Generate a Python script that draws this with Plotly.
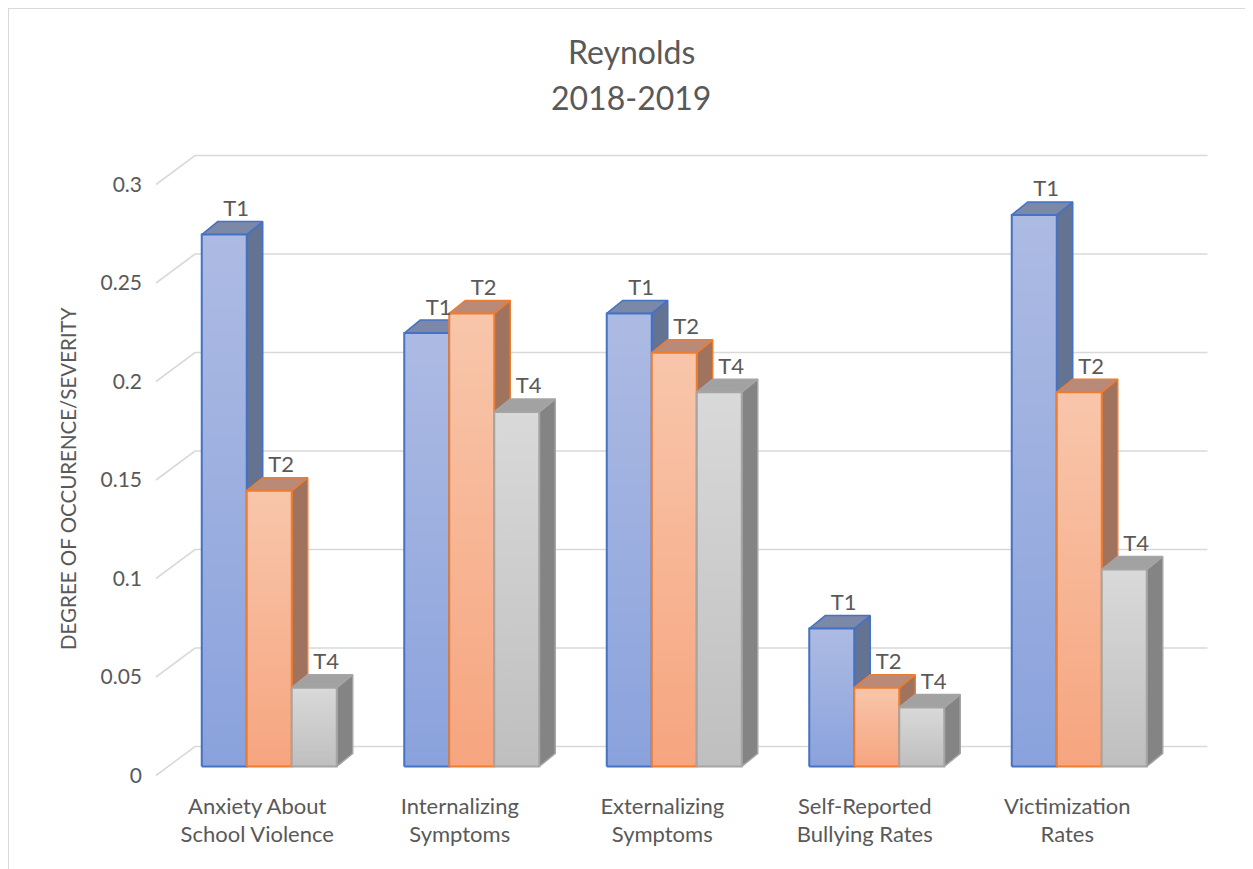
import plotly.graph_objects as go

# ---------------- data ----------------
categories = ["Anxiety About<br>School Violence", "Internalizing<br>Symptoms",
              "Externalizing<br>Symptoms", "Self-Reported<br>Bullying Rates",
              "Victimization<br>Rates"]
series_names = ["T1", "T2", "T4"]
t1_values = [0.27, 0.22, 0.23, 0.07, 0.28]
t2_values = [0.14, 0.23, 0.21, 0.04, 0.19]
t4_values = [0.04, 0.18, 0.19, 0.03, 0.10]
y_ticks = [0, 0.05, 0.1, 0.15, 0.2, 0.25, 0.3]
y_tick_labels = ["0", "0.05", "0.1", "0.15", "0.2", "0.25", "0.3"]
title_lines = ["Reynolds", "2018-2019"]
y_title = "DEGREE OF OCCURENCE/SEVERITY"

# ---------------- layout geometry (page pixels) ----------------
PAGE_W, PAGE_H = 1253, 869
OFF = 8                       # browser body margin
W, H = PAGE_W - OFF, PAGE_H - OFF
CAT_PX = 202.5                # pixels per category band
VAL_PX = 1970.0               # pixels per unit of value
X0 = 156.0 - OFF              # x of front-left wall edge (figure px)
Y0 = 775.5 - OFF              # y of value 0 at front wall edge (figure px)

def px(xp):   # page x -> paper fraction
    return (xp - OFF) / W

def py(yp):   # page y -> paper fraction
    return 1 - (yp - OFF) / H

FONT = "Lato"
TXT = "#595959"
GRID = "#d9d9d9"

series_style = [
    dict(edge="#4472C4", top="#adbbe3", bottom="#8aa2dc", side="#637391", cap="#7b88a8"),
    dict(edge="#ED7D31", top="#f8c6ab", bottom="#f6a57f", side="#a0735e", cap="#b88a77"),
    dict(edge="#A5A5A5", top="#d9d9d9", bottom="#bfbfbf", side="#848484", cap="#a2a2a2"),
]

def dxp(p):
    return p / CAT_PX

def dyp(p):
    return p / VAL_PX

WALL_DX, WALL_DY = dxp(39), dyp(29)     # depth of the wall
OFF_DX, OFF_DY = dxp(12), dyp(9)        # bar front plane offset
BAR_DX, BAR_DY = dxp(16), dyp(13)       # bar depth
BAR_W = dxp(45)

x_range = [-0.5 - X0 / CAT_PX, -0.5 + (W - X0) / CAT_PX]
y_range = [(Y0 - H) / VAL_PX, Y0 / VAL_PX]

fig = go.Figure()

# back wall gridlines
gx, gy = [], []
for t in y_ticks:
    gx += [-0.5, -0.5 + WALL_DX, len(categories) - 0.5 + WALL_DX, None]
    gy += [t, t + WALL_DY, t + WALL_DY, None]
fig.add_trace(go.Scatter(x=gx, y=gy, mode="lines", line=dict(color=GRID, width=1.6),
                         hoverinfo="skip", showlegend=False))

all_series = [t1_values, t2_values, t4_values]
lab_x, lab_y, lab_t = [], [], []
for ci in range(len(categories)):
    for si, vals in enumerate(all_series):
        v = vals[ci]
        st = series_style[si]
        xl = ci - 1.5 * BAR_W + si * BAR_W + OFF_DX
        xr = xl + BAR_W
        yb = OFF_DY
        yt = v + OFF_DY
        # side face
        fig.add_trace(go.Scatter(
            x=[xr, xr + BAR_DX, xr + BAR_DX, xr, xr],
            y=[yb, yb + BAR_DY, yt + BAR_DY, yt, yb],
            mode="lines", fill="toself", fillcolor=st["side"],
            line=dict(color=st["edge"], width=1.5), hoverinfo="skip", showlegend=False))
        # top face
        fig.add_trace(go.Scatter(
            x=[xl, xr, xr + BAR_DX, xl + BAR_DX, xl],
            y=[yt, yt, yt + BAR_DY, yt + BAR_DY, yt],
            mode="lines", fill="toself", fillcolor=st["cap"],
            line=dict(color=st["edge"], width=1.5), hoverinfo="skip", showlegend=False))
        # front face
        fig.add_trace(go.Scatter(
            x=[xl, xr, xr, xl, xl],
            y=[yb, yb, yt, yt, yb],
            mode="lines", fill="toself",
            fillgradient=dict(type="vertical", colorscale=[[0, st["bottom"]], [1, st["top"]]]),
            line=dict(color=st["edge"], width=2), hoverinfo="skip", showlegend=False))
        lab_x.append((xl + xr) / 2 + dxp(12))
        lab_y.append(yt + BAR_DY + dyp(11))
        lab_t.append(series_names[si])

fig.add_trace(go.Scatter(x=lab_x, y=lab_y, text=lab_t, mode="text",
                         textposition="middle center",
                         textfont=dict(family=FONT, size=22, color=TXT),
                         hoverinfo="skip", showlegend=False, cliponaxis=False))

fig.update_layout(
    width=W, height=H,
    margin=dict(l=0, r=0, t=0, b=0, pad=0),
    paper_bgcolor="white", plot_bgcolor="white",
    showlegend=False,
    font=dict(family=FONT, color=TXT),
    xaxis=dict(range=x_range, showgrid=False, zeroline=False, showline=False,
               tickmode="array", tickvals=list(range(len(categories))), ticktext=categories,
               ticks="", anchor="free", position=(H - Y0) / H, ticklabelstandoff=15,
               tickfont=dict(family=FONT, size=22, color=TXT), fixedrange=True),
    yaxis=dict(range=y_range, showgrid=False, zeroline=False, showline=False,
               tickmode="array", tickvals=y_ticks, ticktext=y_tick_labels,
               ticks="", anchor="free", position=X0 / W, ticklabelstandoff=14,
               tickfont=dict(family=FONT, size=21, color=TXT), fixedrange=True),
    shapes=[
        dict(type="line", xref="paper", yref="paper", x0=0, x1=1.0, y0=1, y1=1,
             line=dict(color=GRID, width=2)),
        dict(type="line", xref="paper", yref="paper", x0=0, x1=0, y0=0, y1=1,
             line=dict(color=GRID, width=2)),
    ],
    annotations=[
        dict(text=title_lines[0], xref="paper", yref="paper", x=px(631), y=py(51),
             showarrow=False, xanchor="center", yanchor="middle",
             font=dict(family=FONT, size=32, color=TXT)),
        dict(text=title_lines[1], xref="paper", yref="paper", x=px(631), y=py(97),
             showarrow=False, xanchor="center", yanchor="middle",
             font=dict(family=FONT, size=32, color=TXT)),
        dict(text=y_title, xref="paper", yref="paper", x=px(68), y=py(479),
             showarrow=False, xanchor="center", yanchor="middle", textangle=-90,
             font=dict(family=FONT, size=20.5, color=TXT)),
    ],
)

fig.write_html("out.html")
